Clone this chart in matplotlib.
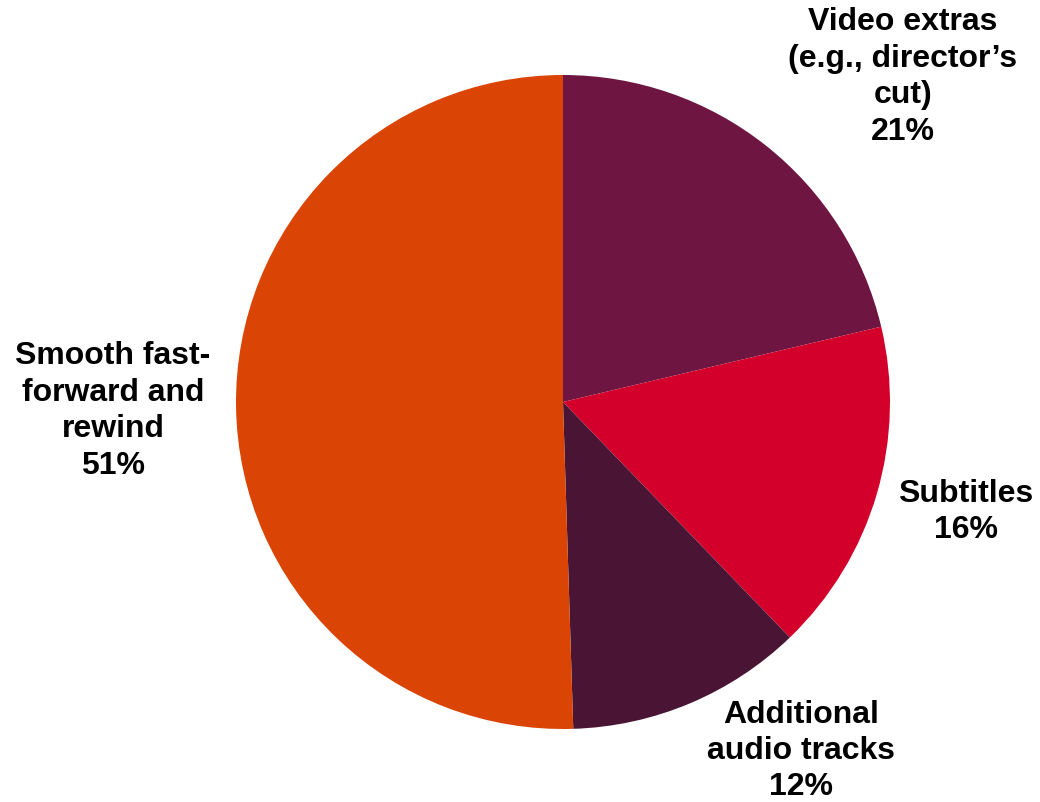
import matplotlib
matplotlib.use("Agg")
import matplotlib.pyplot as plt

labels = ["Video extras\n(e.g., director\u2019s\ncut)", "Subtitles", "Additional\naudio tracks",
          "Smooth fast-\nforward and\nrewind"]
shares = [21.3, 16.5, 11.7, 50.5]      # slice sizes
shown_pct = [21, 16, 12, 51]           # rounded percentages printed in the labels
colors = ["#6E1641", "#D2002A", "#4A1535", "#DA4505"]
# label anchor (pixel coords in the 1040x802 image, y from top)
label_xy = [(903, 77), (966, 512), (801, 751), (113, 411)]

W, H = 1040, 802
fig = plt.figure(figsize=(W / 100, H / 100), dpi=100)
ax = fig.add_axes([0, 0, 1, 1])

ax.pie(shares, colors=colors, startangle=90, counterclock=False,
       center=(563, H - 402), radius=327, frame=True,
       wedgeprops=dict(linewidth=0))
ax.set_xlim(0, W)
ax.set_ylim(0, H)
ax.set_aspect("equal")
ax.axis("off")

for lab, val, (px, py) in zip(labels, shown_pct, label_xy):
    ax.text(px, H - py, f"{lab}\n{val}%", ha="center", va="center",
            fontsize=23, fontweight="bold", family="Liberation Sans",
            linespacing=1.28, color="black")

fig.savefig("out.png", dpi=100)
